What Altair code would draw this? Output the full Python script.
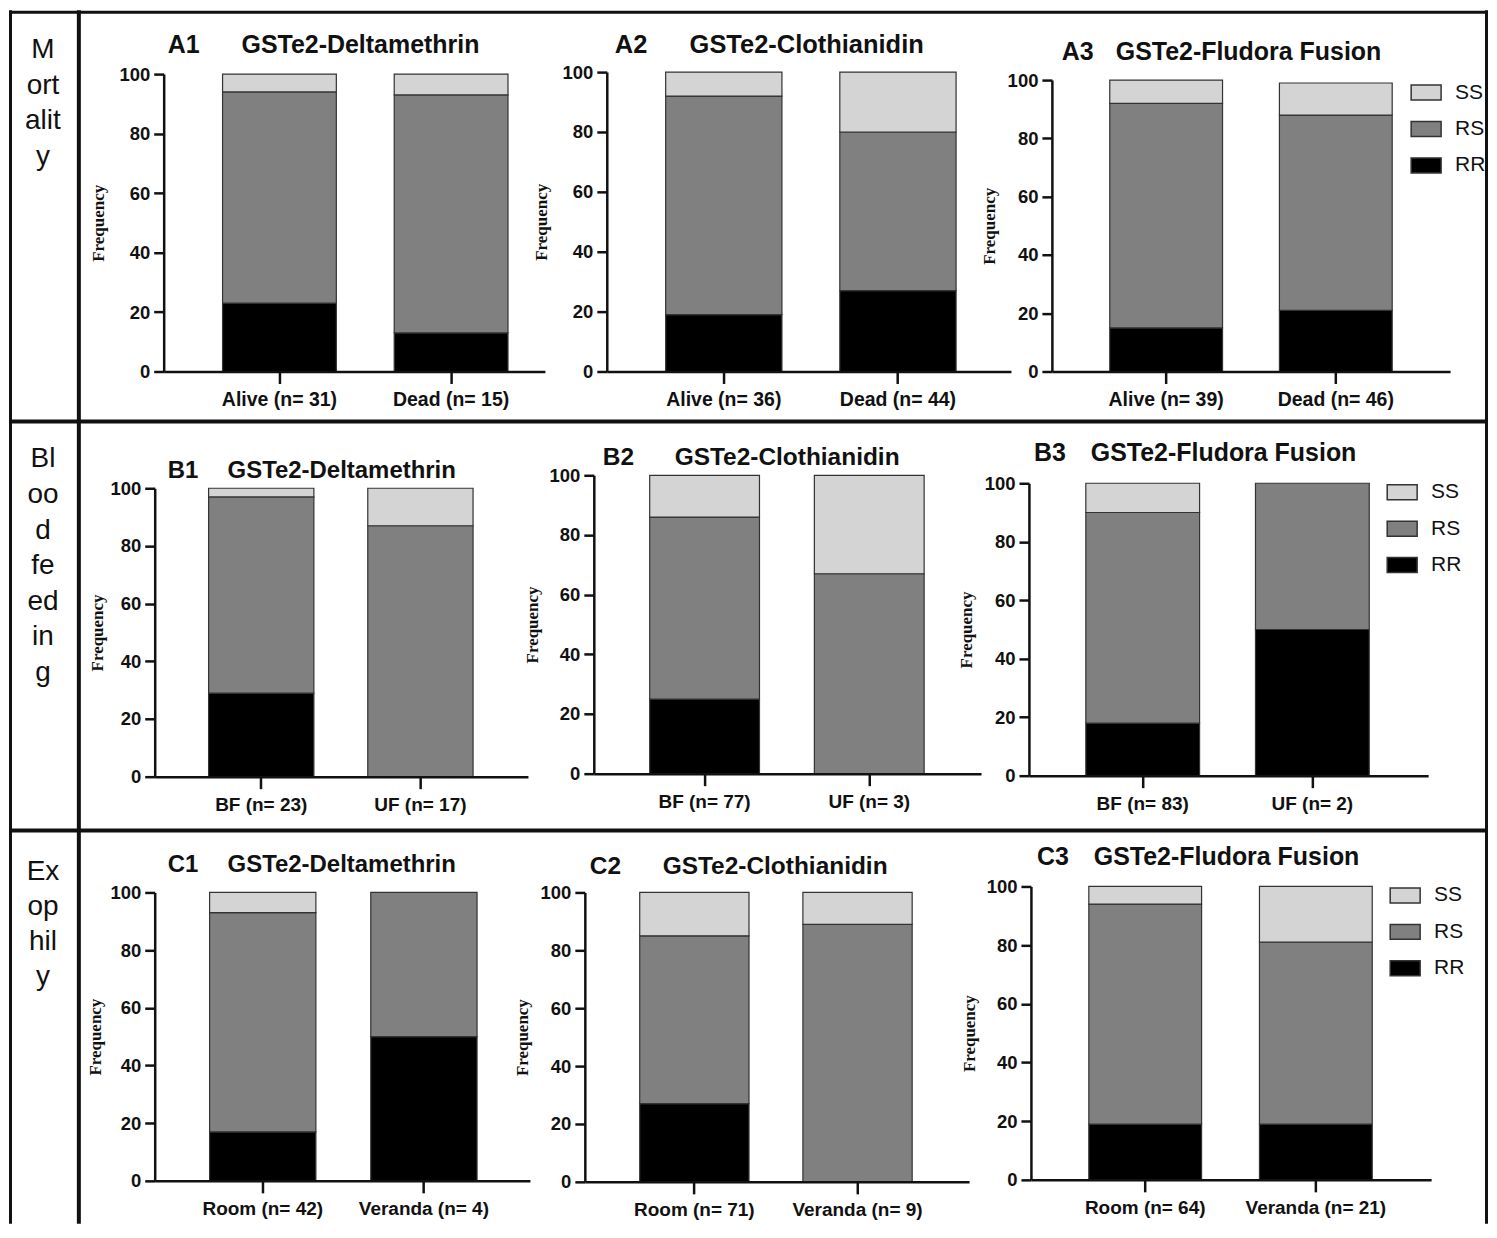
import altair as alt
import pandas as pd

# ---------------- data ----------------
genotypes = ["SS", "RS", "RR"]
panel_ids = ["A1", "A2", "A3", "B1", "B2", "B3", "C1", "C2", "C3"]
panel_titles = ["GSTe2-Deltamethrin", "GSTe2-Clothianidin", "GSTe2-Fludora Fusion",
                "GSTe2-Deltamethrin", "GSTe2-Clothianidin", "GSTe2-Fludora Fusion",
                "GSTe2-Deltamethrin", "GSTe2-Clothianidin", "GSTe2-Fludora Fusion"]
categories = [
    ["Alive (n= 31)", "Dead (n= 15)"],
    ["Alive (n= 36)", "Dead (n= 44)"],
    ["Alive (n= 39)", "Dead (n= 46)"],
    ["BF (n= 23)", "UF (n= 17)"],
    ["BF (n= 77)", "UF (n= 3)"],
    ["BF (n= 83)", "UF (n= 2)"],
    ["Room (n= 42)", "Veranda (n= 4)"],
    ["Room (n= 71)", "Veranda (n= 9)"],
    ["Room (n= 64)", "Veranda (n= 21)"],
]
rr_values = [[23, 13], [19, 27], [15, 21], [29, 0], [25, 0], [18, 50], [17, 50], [27, 0], [19, 19]]
rs_values = [[71, 80], [73, 53], [77, 67], [68, 87], [61, 67], [72, 50], [76, 50], [58, 89], [75, 62]]
ss_values = [[6, 7], [8, 20], [8, 11], [3, 13], [14, 33], [10, 0], [7, 0], [15, 11], [6, 19]]
row_labels = [["M", "ort", "alit", "y"],
              ["Bl", "oo", "d", "fe", "ed", "in", "g"],
              ["Ex", "op", "hil", "y"]]
y_title = "Frequency"
y_ticks = [0, 20, 40, 60, 80, 100]

# ---------------- style / layout (pixel geometry of the page) ----------------
COLORS = ["#d4d4d4", "#808080", "#000000"]
FONT = "Liberation Sans"
SERIF = "Liberation Serif"
INK = "#111111"
ROW_TOP = [8, 420, 830]
ROW_H = [412, 410, 394]
CELL_LEFT = [8, 78, 560, 1020]
CELL_W = [70, 482, 460, 470]
TOTAL_W = sum(CELL_W)

GEOM = {
    #      ax0   ax1   b1l   b1r   b2l   b2r   y0    y100  idX   ttlX  ttlY  frqX  ttlFs xFs
    "A1": (163, 545, 222, 336, 394, 508, 370, 72, 167, 241, 43, 98, 25, 19.5),
    "A2": (607, 1012, 666, 782, 840, 957, 370, 70, 615, 690, 43, 542, 25.5, 19.5),
    "A3": (1053, 1452, 1111, 1224, 1281, 1394, 370, 78, 1063, 1117, 50, 990, 25, 19.5),
    "B1": (154, 528, 208, 314, 368, 473, 776, 487, 167, 227, 470, 97, 24, 19),
    "B2": (594, 982, 650, 760, 815, 925, 773, 474, 603, 675, 457, 533, 24.5, 19),
    "B3": (1030, 1430, 1087, 1201, 1257, 1371, 775, 482, 1035, 1092, 452, 967, 25, 19),
    "C1": (154, 530, 209, 316, 371, 477, 1181, 892, 167, 227, 865, 95, 24, 19),
    "C2": (585, 970, 640, 749, 803, 913, 1182, 892, 590, 663, 867, 523, 24.5, 19),
    "C3": (1032, 1433, 1090, 1203, 1261, 1374, 1180, 886, 1038, 1095, 857, 970, 25, 19),
}
# legend: symbol left x, first symbol centre y (page px)
LEGEND = {"A3": (1412, 89.5), "B3": (1388, 490), "C3": (1391, 894)}
ENTRY_H = 30
ROW_STEP = 39.5
# row label: first line centre y, line step
ROW_TEXT = [(48, 35.7), (458, 35.7), (872, 35.0)]


def panel(i):
    r, c = divmod(i, 3)
    pid = panel_ids[i]
    ax0, ax1, b1l, b1r, b2l, b2r, y0, y100, lx, tx, ty, fx, tfs, xfs = GEOM[pid]
    left, top = CELL_LEFT[c + 1], ROW_TOP[r]
    w, h = CELL_W[c + 1], ROW_H[r]
    cats = categories[i]
    recs = []
    for j, cat in enumerate(cats):
        for gname, order, vals in (("RR", 0, rr_values), ("RS", 1, rs_values), ("SS", 2, ss_values)):
            v = vals[i][j]
            if v > 0:
                recs.append({"category": cat, "genotype": gname, "value": v, "order": order})
    df = pd.DataFrame(recs)

    bw = ((b1r - b1l) + (b2r - b2l)) / 2
    mid = b2l - b1r
    step = bw + mid
    outer = (ax1 - ax0) - 2 * bw - mid
    p_in = mid / step
    p_out = outer / (2 * step)
    align = (b1l - ax0) / outer

    if pid in LEGEND:
        sx, sy = LEGEND[pid]
        legend = alt.Legend(
            orient="none", legendX=sx - left, legendY=sy - top - ENTRY_H / 2,
            title=None, symbolType="M-1,-0.5H1V0.5H-1Z", symbolSize=900,
            symbolStrokeColor="#333333", symbolStrokeWidth=1.5, symbolOpacity=1,
            labelFont=FONT, labelFontSize=21, labelColor=INK, labelOffset=13,
            rowPadding=ROW_STEP - ENTRY_H, padding=0,
        )
    else:
        legend = None

    bars = alt.Chart(df).mark_bar(stroke="#333333", strokeWidth=1.2).encode(
        x=alt.X("category:N", sort=cats,
                scale=alt.Scale(domain=cats, range=[ax0 - left, ax1 - left],
                                paddingInner=p_in, paddingOuter=p_out, align=align),
                axis=alt.Axis(title=None, labelAngle=0, offset=(y0 - top) - h,
                              labelFont=FONT, labelFontSize=xfs, labelFontWeight="bold",
                              labelColor=INK, tickSize=12, labelPadding=7,
                              domainWidth=2.5, tickWidth=2.5, domainColor=INK, tickColor=INK,
                              grid=False, zindex=1)),
        y=alt.Y("value:Q", stack="zero",
                scale=alt.Scale(domain=[0, 100], range=[y0 - top, y100 - top], nice=False),
                axis=alt.Axis(values=y_ticks, title=y_title, titleFont=SERIF, titleFontSize=17,
                              titleFontWeight="bold", titleColor=INK, titleAngle=270,
                              titleX=fx - ax0, titleY=(y0 + y100) / 2 - top,
                              titleAlign="center", titleBaseline="middle",
                              offset=-(ax0 - left), labelFont=FONT, labelFontSize=18.5,
                              labelFontWeight="bold", labelColor=INK, tickSize=10,
                              labelPadding=4, domainWidth=2.5, tickWidth=2.5,
                              domainColor=INK, tickColor=INK, grid=False, zindex=1)),
        color=alt.Color("genotype:N", scale=alt.Scale(domain=genotypes, range=COLORS), legend=legend),
        order=alt.Order("order:Q", sort="ascending"),
    )
    t_id = alt.Chart(pd.DataFrame({"t": [pid]})).mark_text(
        align="left", baseline="middle", font=FONT, fontWeight="bold", fontSize=tfs, color=INK
    ).encode(text="t:N", x=alt.value(lx - left), y=alt.value(ty - top))
    t_main = alt.Chart(pd.DataFrame({"t": [panel_titles[i]]})).mark_text(
        align="left", baseline="middle", font=FONT, fontWeight="bold", fontSize=tfs, color=INK
    ).encode(text="t:N", x=alt.value(tx - left), y=alt.value(ty - top))
    return alt.layer(bars, t_id, t_main).properties(width=w, height=h)


def bar_line(x1, x2, y1, y2):
    # a frame line drawn as a filled rectangle (no stroke, so bounds stay exact)
    one = pd.DataFrame({"k": [0]})
    return alt.Chart(one).mark_rect(color=INK).encode(
        x=alt.value(x1), x2=alt.value(x2), y=alt.value(y1), y2=alt.value(y2))


def label_cell(r):
    h = ROW_H[r]
    top = ROW_TOP[r]
    first, lh = ROW_TEXT[r]
    lines = row_labels[r]
    ldf = pd.DataFrame({"line": lines, "idx": list(range(len(lines)))})
    txt = alt.Chart(ldf).mark_text(font=FONT, fontSize=28, align="center", baseline="middle",
                                   color=INK).encode(
        text="line:N",
        x=alt.value(42 - CELL_LEFT[0]),
        y=alt.Y("idx:Q", scale=alt.Scale(domain=[0, 1], range=[first - top, first - top + lh], nice=False),
                axis=None),
    )
    if r == 0:
        horiz = bar_line(0, TOTAL_W, 0.5, 3.5)
    else:
        horiz = bar_line(0, TOTAL_W, -2, 2)
    left_l = bar_line(0, 3, 0, h)
    right_l = bar_line(TOTAL_W - 3, TOTAL_W, 0, h)
    divider = bar_line(CELL_W[0] - 2, CELL_W[0] + 2, 0, h)
    return alt.layer(txt, horiz, left_l, right_l, divider).properties(width=CELL_W[0], height=h)


cells = []
for r in range(3):
    cells.append(label_cell(r))
    for c in range(3):
        cells.append(panel(r * 3 + c))

chart = alt.concat(*cells, columns=4, spacing=0, bounds="flush", align="each").resolve_scale(
    color="independent").resolve_legend(color="independent").properties(
    padding=0, background="white"
).configure_view(stroke="transparent")

chart.save("out.html", embed_options={"renderer": "svg", "actions": False})
